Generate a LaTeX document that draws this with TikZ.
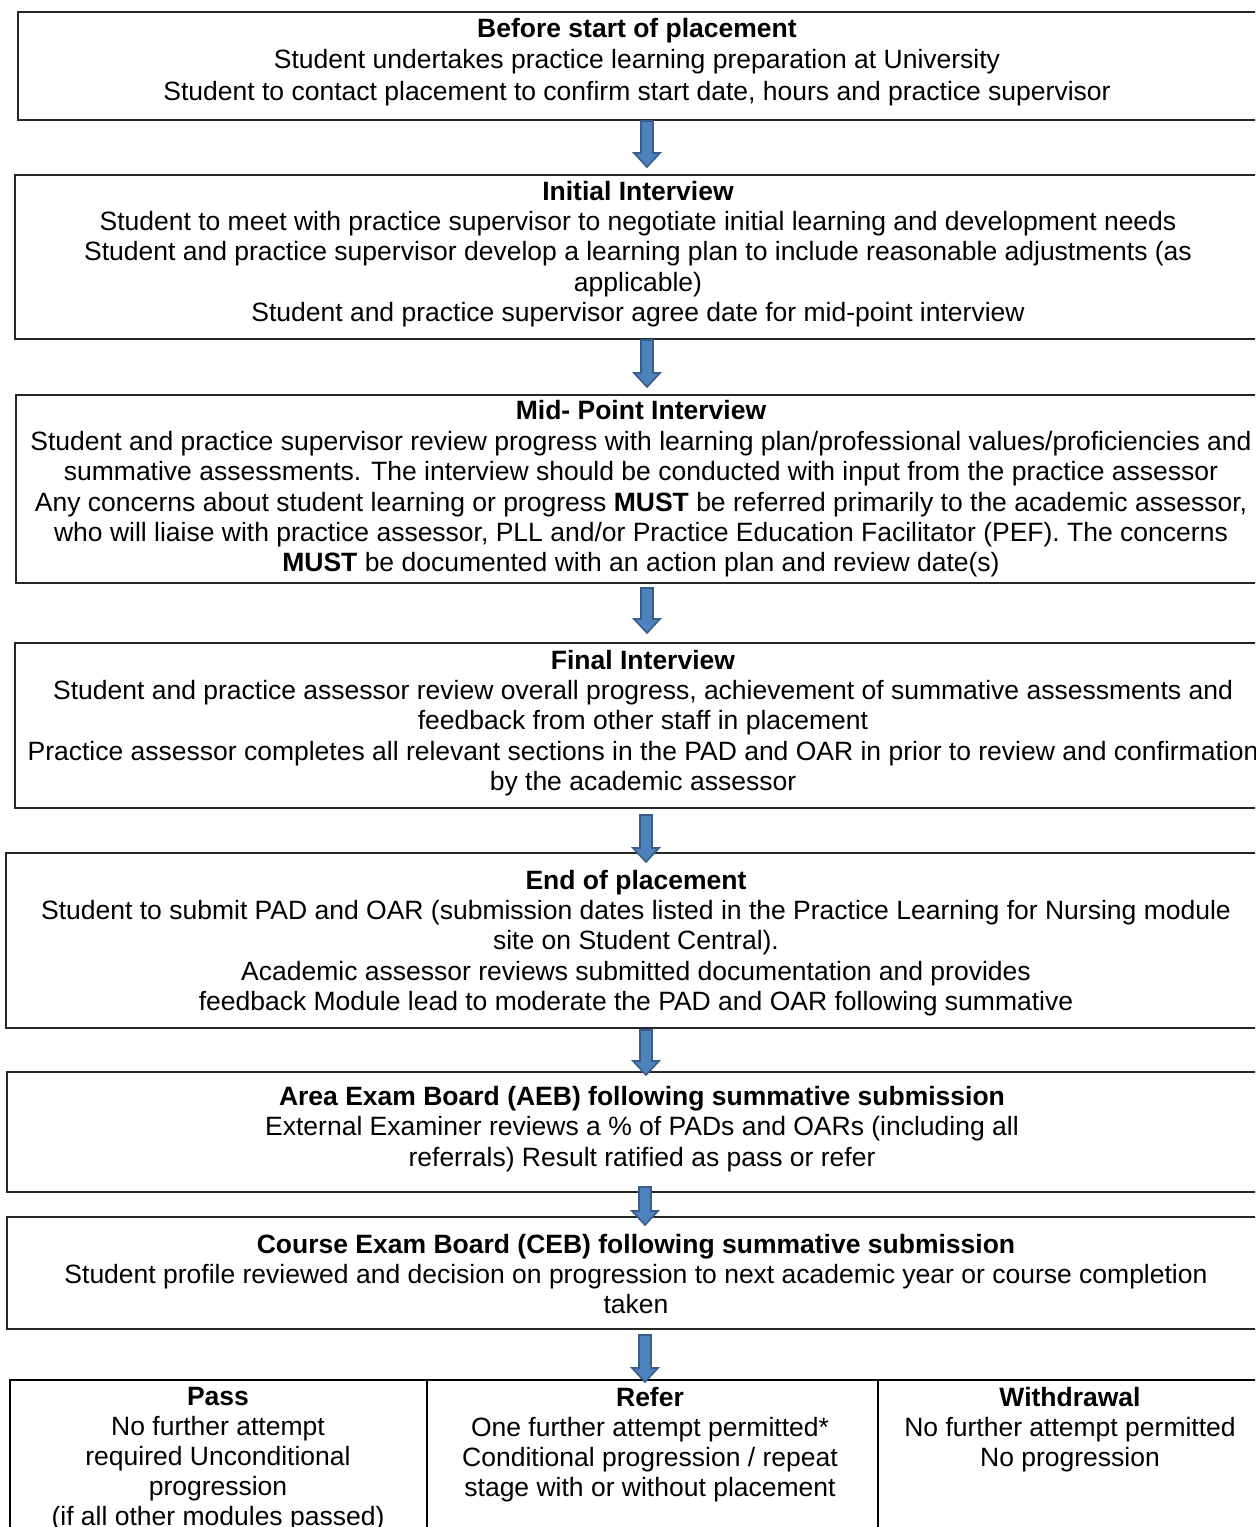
\documentclass[tikz,border=0pt]{standalone}
\usepackage{fontspec}
\setmainfont{Liberation Sans}
\usetikzlibrary{calc}
\definecolor{arrowblue}{RGB}{79,129,189}
\definecolor{arrowedge}{RGB}{56,93,138}
\newcommand{\blockarrow}[2]{%
  \filldraw[arrowstyle] ($(#1)+(-6,0)$) -- ($(#2)+(-6,-14)$) -- ($(#2)+(-13,-14)$) -- (#2)
    -- ($(#2)+(13,-14)$) -- ($(#2)+(6,-14)$) -- ($(#1)+(6,0)$) -- cycle;}
\begin{document}
\begin{tikzpicture}[x=0.5pt,y=-0.5pt,
  box/.style={draw=black!85, line width=0.75pt, anchor=north west, inner sep=0pt, outer sep=0pt},
  cell/.style={draw=black, line width=1pt, anchor=north west, inner sep=0pt, outer sep=0pt,
    minimum height=80pt},
  txt/.style={align=center, inner sep=0pt, font=\fontsize{13.25}{15.2}\selectfont},
  arrowstyle/.style={fill=arrowblue, draw=arrowedge, line width=0.8pt, line join=miter}]
\useasboundingbox (0,0) rectangle (1255,1527);
\clip (0,0) rectangle (1255,1527);
\fill[white] (0,0) rectangle (1255,1527);

% boxes
\node[box, minimum width=623.5pt, minimum height=54pt] (b1) at (18,12) {};
\node[box, minimum width=625pt, minimum height=82pt] (b2) at (15,175) {};
\node[box, minimum width=624.5pt, minimum height=94pt] (b3) at (16,395) {};
\node[box, minimum width=625pt, minimum height=82.5pt] (b4) at (15,643) {};
\node[box, minimum width=629.5pt, minimum height=87.5pt] (b5) at (6,853) {};
\node[box, minimum width=629pt, minimum height=60pt] (b6) at (7,1072) {};
\node[box, minimum width=629pt, minimum height=56pt] (b7) at (7,1217) {};
\node[cell, minimum width=208.5pt] (c1) at (10,1380) {};
\node[cell, minimum width=225.5pt] (c2) at (427,1380) {};
\node[cell, minimum width=193.5pt] (c3) at (878,1380) {};

% texts
\node[txt, font=\fontsize{13.25}{15.7}\selectfont] (t1) at (637,62) {\textbf{Before start of placement}\\
Student undertakes practice learning preparation at University\\
Student to contact placement to confirm start date, hours and practice supervisor};

\node[txt] (t2) at (638,254) {\textbf{Initial Interview}\\
Student to meet with practice supervisor to negotiate initial learning and development needs\\
Student and practice supervisor develop a learning plan to include reasonable adjustments (as\\
applicable)\\
Student and practice supervisor agree date for mid-point interview};

\node[txt] (t3) at (641,489) {\textbf{Mid- Point Interview}\\
Student and practice supervisor review progress with learning plan/professional values/proficiencies and\\
summative assessments. The interview should be conducted with input from the practice assessor\\
Any concerns about student learning or progress \textbf{MUST} be referred primarily to the academic assessor,\\
who will liaise with practice assessor, PLL and/or Practice Education Facilitator (PEF). The concerns\\
\textbf{MUST} be documented with an action plan and review date(s)};

\node[txt] (t4) at (643,723) {\textbf{Final Interview}\\
Student and practice assessor review overall progress, achievement of summative assessments and\\
feedback from other staff in placement\\
Practice assessor completes all relevant sections in the PAD and OAR in prior to review and confirmation\\
by the academic assessor};

\node[txt] (t5) at (636,943) {\textbf{End of placement}\\
Student to submit PAD and OAR (submission dates listed in the Practice Learning for Nursing module\\
site on Student Central).\\
Academic assessor reviews submitted documentation and provides\\
feedback Module lead to moderate the PAD and OAR following summative};

\node[txt] (t6) at (642,1129) {\textbf{Area Exam Board (AEB) following summative submission}\\
External Examiner reviews a \% of PADs and OARs (including all\\
referrals) Result ratified as pass or refer};

\node[txt] (t7) at (636,1274) {\textbf{Course Exam Board (CEB) following summative submission}\\
Student profile reviewed and decision on progression to next academic year or course completion\\
taken};

\node[txt, font=\fontsize{13.25}{15}\selectfont] (tp) at (218,1459) {\textbf{Pass}\\
No further attempt\\
required Unconditional\\
progression\\
(if all other modules passed)};

\node[txt, font=\fontsize{13.25}{15}\selectfont] (tr) at (650,1445) {\textbf{Refer}\\
One further attempt permitted*\\
Conditional progression / repeat\\
stage with or without placement};

\node[txt, font=\fontsize{13.25}{15}\selectfont] (tw) at (1070,1430) {\textbf{Withdrawal}\\
No further attempt permitted\\
No progression};

% arrows
\coordinate (a1s) at (647,121);  \coordinate (a1e) at (647,167);
\coordinate (a2s) at (647,340);  \coordinate (a2e) at (647,387);
\coordinate (a3s) at (647,588);  \coordinate (a3e) at (647,633);
\coordinate (a4s) at (646,815);  \coordinate (a4e) at (646,862);
\coordinate (a5s) at (646,1030); \coordinate (a5e) at (646,1075);
\coordinate (a6s) at (645,1187); \coordinate (a6e) at (645,1225);
\coordinate (a7s) at (645,1335); \coordinate (a7e) at (645,1382);
\blockarrow{a1s}{a1e}
\blockarrow{a2s}{a2e}
\blockarrow{a3s}{a3e}
\blockarrow{a4s}{a4e}
\blockarrow{a5s}{a5e}
\blockarrow{a6s}{a6e}
\blockarrow{a7s}{a7e}
\end{tikzpicture}
\end{document}
